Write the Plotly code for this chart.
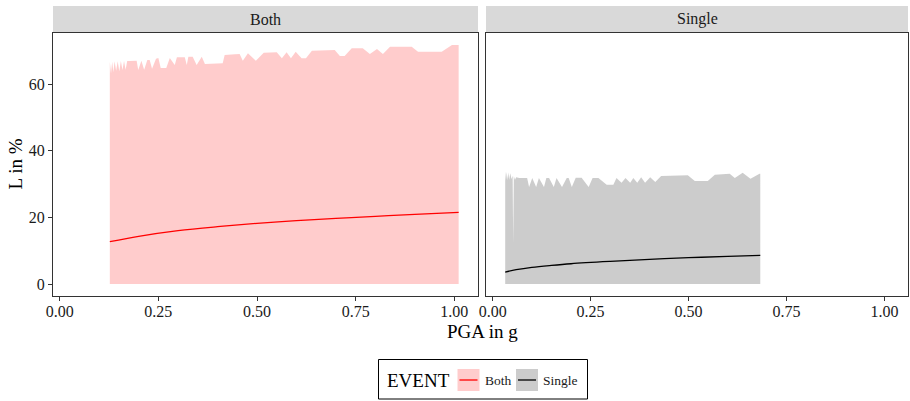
import plotly.graph_objects as go

# ---- data ----
both_upper_x = [0.127, 0.130, 0.133, 0.136, 0.139, 0.143, 0.147, 0.151, 0.155, 0.159, 0.163, 0.167, 0.171,
                0.177, 0.195, 0.199, 0.207, 0.214, 0.222, 0.228, 0.234, 0.244, 0.250, 0.256, 0.270, 0.279,
                0.2915, 0.297, 0.317, 0.322, 0.326, 0.337, 0.347, 0.360, 0.368, 0.413, 0.418, 0.444, 0.456,
                0.464, 0.477, 0.497, 0.517, 0.550, 0.563, 0.575, 0.586, 0.598, 0.613, 0.624, 0.639, 0.697,
                0.710, 0.722, 0.740, 0.768, 0.786, 0.804, 0.819, 0.837, 0.892, 0.908, 0.968, 0.994, 1.011]
both_upper_y = [66.7, 63.2, 66.7, 63.5, 66.8, 64.0, 66.8, 63.8, 66.9, 64.2, 66.9, 64.3, 66.9,
                66.9, 67.0, 64.2, 67.0, 64.3, 67.2, 67.2, 64.6, 67.6, 67.8, 64.8, 64.8, 67.8,
                65.7, 68.0, 68.0, 65.7, 68.2, 68.2, 65.7, 68.2, 66.0, 66.2, 68.7, 68.9, 69.0,
                67.0, 69.2, 67.0, 69.4, 69.5, 67.7, 69.5, 67.7, 69.7, 67.7, 67.7, 70.0, 70.2,
                68.4, 68.4, 70.7, 70.7, 69.0, 70.5, 69.0, 71.2, 71.2, 69.7, 69.7, 71.7, 71.7]
both_median_x = [0.127, 0.2, 0.3, 0.4, 0.5, 0.6, 0.7, 0.8, 0.9, 1.011]
both_median_y = [12.7, 14.3, 16.0, 17.2, 18.2, 19.0, 19.7, 20.3, 20.9, 21.5]

single_upper_x = [0.032, 0.034, 0.036, 0.038, 0.040, 0.042, 0.045, 0.048, 0.051, 0.0524, 0.054, 0.057,
                  0.060, 0.068, 0.088, 0.093, 0.101, 0.111, 0.118, 0.131, 0.137, 0.144, 0.156, 0.163,
                  0.177, 0.189, 0.194, 0.202, 0.212, 0.227, 0.245, 0.255, 0.270, 0.291, 0.308, 0.316,
                  0.329, 0.339, 0.351, 0.359, 0.369, 0.379, 0.389, 0.402, 0.415, 0.430, 0.498, 0.516,
                  0.549, 0.567, 0.605, 0.618, 0.638, 0.658, 0.681, 0.683]
single_upper_y = [33.8, 31.2, 33.6, 31.1, 33.5, 31.3, 33.2, 31.5, 32.5, 12.2, 32.3, 31.3,
                  32.0, 31.8, 31.8, 29.1, 31.8, 29.1, 31.8, 29.1, 31.8, 31.8, 29.1, 31.8,
                  29.1, 31.8, 31.8, 29.1, 31.9, 31.9, 29.1, 31.8, 31.8, 29.8, 29.8, 31.8,
                  30.4, 31.8, 30.4, 31.8, 30.4, 32.0, 30.4, 32.0, 30.6, 32.4, 32.6, 30.9,
                  30.9, 32.8, 33.1, 31.8, 33.4, 31.6, 33.1, 33.1]
single_median_x = [0.032, 0.06, 0.1, 0.15, 0.2, 0.3, 0.4, 0.5, 0.6, 0.683]
single_median_y = [3.6, 4.3, 5.0, 5.6, 6.1, 6.8, 7.4, 7.9, 8.3, 8.6]

panels = ["Both", "Single"]
x_ticks = [0.0, 0.25, 0.5, 0.75, 1.0]
y_ticks = [0, 20, 40, 60]

FONT = "Liberation Serif, Times New Roman, serif"
fill_both = "rgba(255,0,0,0.2)"
fill_single = "rgba(0,0,0,0.2)"

fig = go.Figure()


def ribbon(xs, ys, color, xa, ya):
    px = list(xs) + [xs[-1], xs[0]]
    py = list(ys) + [0, 0]
    return go.Scatter(x=px, y=py, fill="toself", fillcolor=color, mode="none",
                      line=dict(width=0), showlegend=False, hoverinfo="skip",
                      xaxis=xa, yaxis=ya)


fig.add_trace(ribbon(both_upper_x, both_upper_y, fill_both, "x", "y"))
fig.add_trace(go.Scatter(x=both_median_x, y=both_median_y, mode="lines", line=dict(color="#FF0000", width=1.3, shape="spline"),
                         showlegend=False, xaxis="x", yaxis="y"))
fig.add_trace(ribbon(single_upper_x, single_upper_y, fill_single, "x2", "y2"))
fig.add_trace(go.Scatter(x=single_median_x, y=single_median_y, mode="lines", line=dict(color="#000000", width=1.3, shape="spline"),
                         showlegend=False, xaxis="x2", yaxis="y2"))

W, H = 910, 401
ml, mr, mt, mb = 53, 2, 6, 105
pw = W - ml - mr
ph = H - mt - mb
left_dom = [0, (478 - ml) / pw]
right_dom = [(486 - ml) / pw, 1]
y_top = (H - mb - 33) / ph

xr = [-0.017, 1.060]
yr = [-3.58, 75.3]
axis_common = dict(showgrid=False, zeroline=False, showline=True, mirror=True, linecolor="#333333",
                   linewidth=1, ticks="outside", ticklen=4, tickcolor="#333333",
                   tickfont=dict(family=FONT, size=16, color="#1a1a1a"))
fig.update_layout(
    width=W, height=H,
    margin=dict(l=ml, r=mr, t=mt, b=mb),
    paper_bgcolor="white", plot_bgcolor="white",
    showlegend=False,
    xaxis=dict(domain=left_dom, range=xr, tickvals=x_ticks, tickformat=".2f", anchor="y",
               ticklabelstandoff=-3, **axis_common),
    yaxis=dict(domain=[0, y_top], range=yr, tickvals=y_ticks, anchor="x", **axis_common),
    xaxis2=dict(domain=right_dom, range=xr, tickvals=x_ticks, tickformat=".2f", anchor="y2",
                ticklabelstandoff=-3, **axis_common),
    yaxis2=dict(domain=[0, y_top], range=yr, tickvals=y_ticks, showticklabels=False, ticks="",
                anchor="x2", **{k: v for k, v in axis_common.items() if k not in ("ticks",)}),
)

# strips
for i, (name, xref) in enumerate(zip(panels, ["x", "x2"])):
    fig.add_shape(type="rect", xref=f"{xref} domain", yref="paper", x0=0, x1=1, y0=y_top, y1=1,
                  fillcolor="#D9D9D9", line=dict(width=0), layer="below")
    fig.add_annotation(xref=f"{xref} domain", yref="paper", x=0.5, y=(y_top + 1) / 2, text=name,
                       showarrow=False, font=dict(family=FONT, size=16, color="#1a1a1a"),
                       xanchor="center", yanchor="middle")

# axis titles
fig.add_annotation(xref="paper", yref="paper", x=(482 - ml) / pw, y=0,
                   yshift=-23, text="PGA in g", showarrow=False, xanchor="center", yanchor="top",
                   font=dict(family=FONT, size=19, color="#000000"))
fig.add_annotation(xref="paper", yref="y", x=0, xshift=-38, y=(yr[0] + yr[1]) / 2, text="L in %",
                   textangle=-90, showarrow=False, xanchor="center", yanchor="middle",
                   font=dict(family=FONT, size=19, color="#000000"))

# manual legend (pixel positions converted to paper coords)
def px2x(p):
    return (p - ml) / pw


def py2y(p):
    return (H - mb - p) / ph


fig.add_shape(type="rect", xref="paper", yref="paper", x0=px2x(378.5), x1=px2x(587.5),
              y0=py2y(399), y1=py2y(359.5), line=dict(color="#000000", width=1), fillcolor="white")
fig.add_annotation(xref="paper", yref="paper", x=px2x(385), y=py2y(380), text="EVENT", showarrow=False,
                   xanchor="left", yanchor="middle", font=dict(family=FONT, size=19, color="#000000"))
legend_items = [("Both", fill_both, "#FF0000", 457.5, 483), ("Single", fill_single, "#000000", 516, 541)]
for name, fc, lc, sx, tx in legend_items:
    fig.add_shape(type="rect", xref="paper", yref="paper", x0=px2x(sx), x1=px2x(sx + 22),
                  y0=py2y(391), y1=py2y(369), fillcolor=fc, line=dict(width=0))
    fig.add_shape(type="line", xref="paper", yref="paper", x0=px2x(sx + 2), x1=px2x(sx + 20),
                  y0=py2y(380), y1=py2y(380), line=dict(color=lc, width=1.3))
    fig.add_annotation(xref="paper", yref="paper", x=px2x(tx), y=py2y(380), text=name, showarrow=False,
                       xanchor="left", yanchor="middle", font=dict(family=FONT, size=13.5, color="#1a1a1a"))

fig.write_html("out.html")
